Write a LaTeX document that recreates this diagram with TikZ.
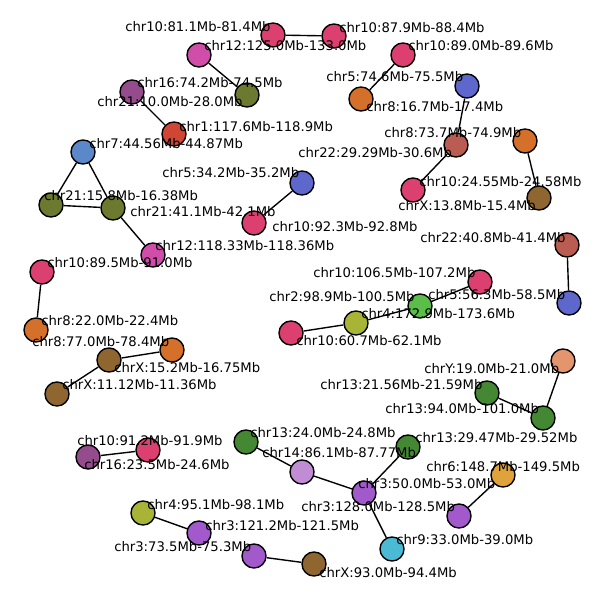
\documentclass[tikz,border=0pt]{standalone}
\usepackage{fontspec}
\setmainfont{DejaVu Sans}
\usepackage{xcolor}
\usepackage{tikz}
\definecolor{chrten}{RGB}{220,64,112}
\definecolor{chrtwelve}{RGB}{208,78,170}
\definecolor{chrtwentyone}{RGB}{107,122,47}
\definecolor{chrsixteen}{RGB}{148,76,140}
\definecolor{chrone}{RGB}{208,70,53}
\definecolor{chrseven}{RGB}{91,136,200}
\definecolor{chreight}{RGB}{213,112,43}
\definecolor{chrfive}{RGB}{94,104,204}
\definecolor{chrtwentytwo}{RGB}{187,92,82}
\definecolor{chrx}{RGB}{143,102,48}
\definecolor{chrfour}{RGB}{168,180,54}
\definecolor{chrtwo}{RGB}{91,190,72}
\definecolor{chry}{RGB}{229,149,110}
\definecolor{chrthirteen}{RGB}{68,136,52}
\definecolor{chrfourteen}{RGB}{192,141,212}
\definecolor{chrthree}{RGB}{162,89,203}
\definecolor{chrsix}{RGB}{224,162,58}
\definecolor{chrnine}{RGB}{75,186,213}

\begin{document}
\begin{tikzpicture}[x=0.72pt,y=-0.72pt,
		vtx/.style={circle,draw=black,line width=1pt,minimum size=17.3pt,inner sep=0pt},
		lbl/.style={anchor=west,inner sep=0pt,font=\fontsize{9.5pt}{11pt}\selectfont},
		link/.style={line width=1pt}]
			\useasboundingbox (0,0) rectangle (605,601);
			
			% upper left
			\node[vtx,fill=chrten] (c10r81) at (273,35) {};
			\node[vtx,fill=chrten] (c10r87) at (334,36) {};
			\node[vtx,fill=chrten] (c10r89) at (403,55) {};
			\node[vtx,fill=chrtwelve] (c12r125) at (199,55) {};
			\node[vtx,fill=chrtwentyone] (c21r10) at (247,95) {};
			\node[vtx,fill=chrsixteen] (c16r74) at (132,92) {};
			\node[vtx,fill=chrone] (c1r117) at (174,134) {};
			\node[vtx,fill=chrseven] (c7r44) at (83,152) {};
			\node[vtx,fill=chrtwentyone] (c21r15) at (51,205) {};
			\node[vtx,fill=chrtwentyone] (c21r41) at (113,208) {};
			\node[vtx,fill=chrtwelve] (c12r118) at (153,255) {};
			\node[vtx,fill=chrfive] (c5r34) at (302,183) {};
			\node[vtx,fill=chrten] (c10r92) at (254,223) {};
			
			% upper right
			\node[vtx,fill=chreight] (c8r16) at (361,99) {};
			\node[vtx,fill=chrfive] (c5r74) at (467,86) {};
			\node[vtx,fill=chrtwentytwo] (c22r29) at (456,145) {};
			\node[vtx,fill=chreight] (c8r73) at (525,141) {};
			\node[vtx,fill=chrten] (c10r24) at (413,190) {};
			\node[vtx,fill=chrx] (cXr13) at (539,198) {};
			\node[vtx,fill=chrtwentytwo] (c22r40) at (567,245) {};
			\node[vtx,fill=chrfive] (c5r56) at (569,303) {};
			
			% middle
			\node[vtx,fill=chrten] (c10r89b) at (42,272) {};
			\node[vtx,fill=chreight] (c8r22) at (36,330) {};
			\node[vtx,fill=chrx] (cXr15) at (109,360) {};
			\node[vtx,fill=chreight] (c8r77) at (172,350) {};
			\node[vtx,fill=chrx] (cXr11) at (57,394) {};
			\node[vtx,fill=chrten] (c10r106) at (480,282) {};
			\node[vtx,fill=chrtwo] (c2r98) at (420,306) {};
			\node[vtx,fill=chrfour] (c4r172) at (356,323) {};
			\node[vtx,fill=chrten] (c10r60) at (291,333) {};
			\node[vtx,fill=chry] (cYr19) at (563,361) {};
			\node[vtx,fill=chrthirteen] (c13r21) at (487,393) {};
			\node[vtx,fill=chrthirteen] (c13r94) at (543,418) {};
			
			% lower part
			\node[vtx,fill=chrsixteen] (c16r23) at (88,457) {};
			\node[vtx,fill=chrten] (c10r91) at (148,450) {};
			\node[vtx,fill=chrthirteen] (c13r24) at (246,442) {};
			\node[vtx,fill=chrfourteen] (c14r86) at (302,472) {};
			\node[vtx,fill=chrthirteen] (c13r29) at (408,447) {};
			\node[vtx,fill=chrthree] (c3r50) at (364,493) {};
			\node[vtx,fill=chrnine] (c9r33) at (392,549) {};
			\node[vtx,fill=chrsix] (c6r148) at (503,475) {};
			\node[vtx,fill=chrthree] (c3r128) at (459,516) {};
			\node[vtx,fill=chrfour] (c4r95) at (143,513) {};
			\node[vtx,fill=chrthree] (c3r121) at (199,533) {};
			\node[vtx,fill=chrthree] (c3r73) at (254,556) {};
			\node[vtx,fill=chrx] (cXr93) at (314,564) {};
			
			% links
			\draw[link] (c10r81) -- (c10r87);
			\draw[link] (c12r125) -- (c21r10);
			\draw[link] (c16r74) -- (c1r117);
			\draw[link] (c10r89) -- (c8r16);
			\draw[link] (c5r74) -- (c22r29);
			\draw[link] (c22r29) -- (c10r24);
			\draw[link] (c8r73) -- (cXr13);
			\draw[link] (c7r44) -- (c21r15);
			\draw[link] (c7r44) -- (c21r41);
			\draw[link] (c21r15) -- (c21r41);
			\draw[link] (c21r41) -- (c12r118);
			\draw[link] (c5r34) -- (c10r92);
			\draw[link] (c22r40) -- (c5r56);
			\draw[link] (c10r89b) -- (c8r22);
			\draw[link] (cXr15) -- (c8r77);
			\draw[link] (cXr15) -- (cXr11);
			\draw[link] (c10r60) -- (c4r172);
			\draw[link] (c4r172) -- (c2r98);
			\draw[link] (c2r98) -- (c10r106);
			\draw[link] (cYr19) -- (c13r94);
			\draw[link] (c13r21) -- (c13r94);
			\draw[link] (c16r23) -- (c10r91);
			\draw[link] (c13r24) -- (c14r86);
			\draw[link] (c14r86) -- (c3r50);
			\draw[link] (c13r29) -- (c3r50);
			\draw[link] (c3r50) -- (c9r33);
			\draw[link] (c6r148) -- (c3r128);
			\draw[link] (c4r95) -- (c3r121);
			\draw[link] (c3r73) -- (cXr93);
			
			% labels
			\node[lbl] (t10r81) at (125,27) {chr10:81.1Mb-81.4Mb};
			\node[lbl] (t10r87) at (339,28) {chr10:87.9Mb-88.4Mb};
			\node[lbl] (t12r125) at (204,46) {chr12:125.0Mb-133.0Mb};
			\node[lbl] (t10r89) at (408,46) {chr10:89.0Mb-89.6Mb};
			\node[lbl] (t5r74) at (326,77) {chr5:74.6Mb-75.5Mb};
			\node[lbl] (t16r74) at (137,83) {chr16:74.2Mb-74.5Mb};
			\node[lbl] (t21r10) at (97,102) {chr21:10.0Mb-28.0Mb};
			\node[lbl] (t8r16) at (366,107) {chr8:16.7Mb-17.4Mb};
			\node[lbl] (t1r117) at (179,127) {chr1:117.6Mb-118.9Mb};
			\node[lbl] (t8r73) at (384,133) {chr8:73.7Mb-74.9Mb};
			\node[lbl] (t7r44) at (89,144) {chr7:44.56Mb-44.87Mb};
			\node[lbl] (t22r29) at (298,153) {chr22:29.29Mb-30.6Mb};
			\node[lbl] (t5r34) at (162,173) {chr5:34.2Mb-35.2Mb};
			\node[lbl] (t10r24) at (419,182) {chr10:24.55Mb-24.58Mb};
			\node[lbl] (t21r15) at (44,196) {chr21:15.8Mb-16.38Mb};
			\node[lbl] (tXr13) at (398,206) {chrX:13.8Mb-15.4Mb};
			\node[lbl] (t21r41) at (130,212) {chr21:41.1Mb-42.1Mb};
			\node[lbl] (t10r92) at (272,227) {chr10:92.3Mb-92.8Mb};
			\node[lbl] (t22r40) at (420,238) {chr22:40.8Mb-41.4Mb};
			\node[lbl] (t12r118) at (155,246) {chr12:118.33Mb-118.36Mb};
			\node[lbl] (t10r89b) at (47,263) {chr10:89.5Mb-91.0Mb};
			\node[lbl] (t10r106) at (313,273) {chr10:106.5Mb-107.2Mb};
			\node[lbl] (t5r56) at (428,295) {chr5:56.3Mb-58.5Mb};
			\node[lbl] (t2r98) at (269,297) {chr2:98.9Mb-100.5Mb};
			\node[lbl] (t4r172) at (361,314) {chr4:172.9Mb-173.6Mb};
			\node[lbl] (t8r22) at (41,321) {chr8:22.0Mb-22.4Mb};
			\node[lbl] (t10r60) at (296,341) {chr10:60.7Mb-62.1Mb};
			\node[lbl] (t8r77) at (32,342) {chr8:77.0Mb-78.4Mb};
			\node[lbl] (tXr15) at (114,368) {chrX:15.2Mb-16.75Mb};
			\node[lbl] (tYr19) at (424,369) {chrY:19.0Mb-21.0Mb};
			\node[lbl] (tXr11) at (62,385) {chrX:11.12Mb-11.36Mb};
			\node[lbl] (t13r21) at (320,385) {chr13:21.56Mb-21.59Mb};
			\node[lbl] (t13r94) at (385,409) {chr13:94.0Mb-101.0Mb};
			\node[lbl] (t13r24) at (250,433) {chr13:24.0Mb-24.8Mb};
			\node[lbl] (t13r29) at (415,438) {chr13:29.47Mb-29.52Mb};
			\node[lbl] (t10r91) at (77,441) {chr10:91.2Mb-91.9Mb};
			\node[lbl] (t14r86) at (262,453) {chr14:86.1Mb-87.77Mb};
			\node[lbl] (t16r23) at (84,465) {chr16:23.5Mb-24.6Mb};
			\node[lbl] (t6r148) at (426,467) {chr6:148.7Mb-149.5Mb};
			\node[lbl] (t3r50) at (358,484) {chr3:50.0Mb-53.0Mb};
			\node[lbl] (t4r95) at (147,505) {chr4:95.1Mb-98.1Mb};
			\node[lbl] (t3r128) at (301,507) {chr3:128.0Mb-128.5Mb};
			\node[lbl] (t3r121) at (205,526) {chr3:121.2Mb-121.5Mb};
			\node[lbl] (t9r33) at (396,540) {chr9:33.0Mb-39.0Mb};
			\node[lbl] (t3r73) at (114,547) {chr3:73.5Mb-75.3Mb};
			\node[lbl] (tXr93) at (319,573) {chrX:93.0Mb-94.4Mb};
			
		\end{tikzpicture}
\end{document}
